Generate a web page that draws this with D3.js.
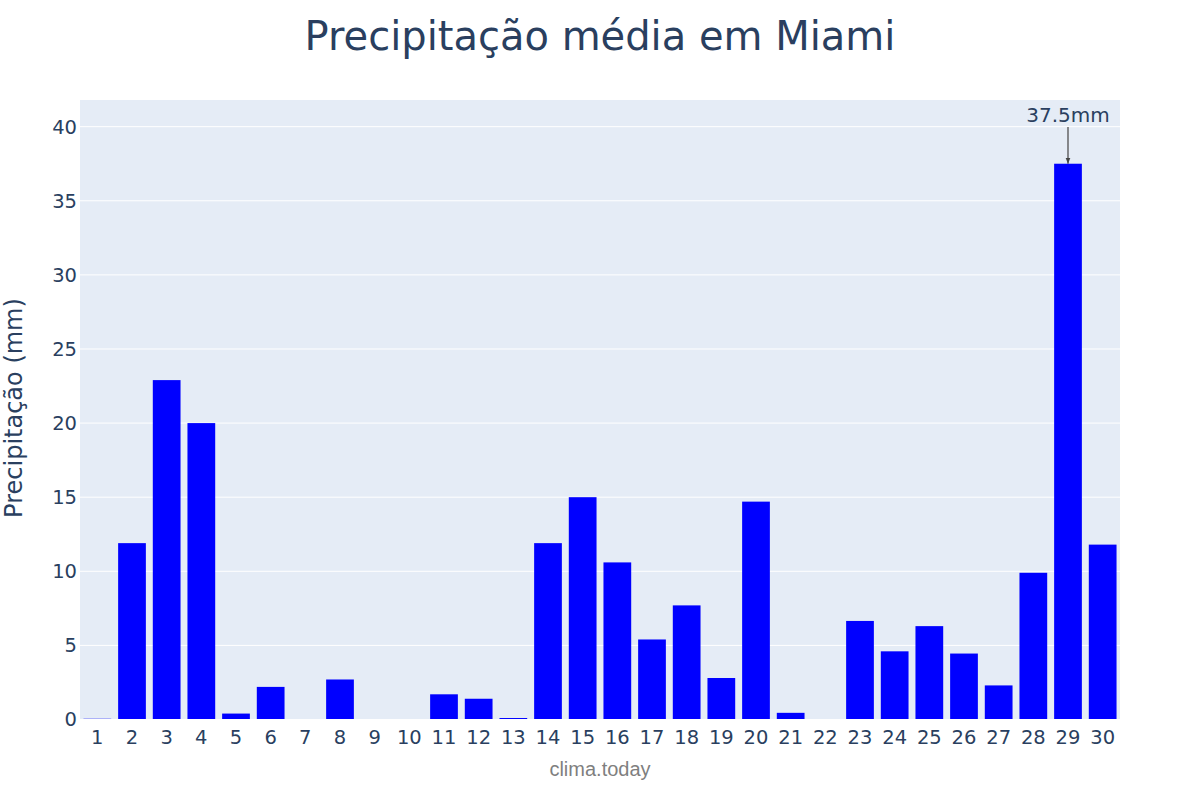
<!DOCTYPE html>
<html><head><meta charset="utf-8">
<script src="https://cdn.jsdelivr.net/npm/d3@7"></script>
<style>body{margin:0;background:#fff;} text{font-family:"DejaVu Sans",sans-serif;}</style>
</head><body>
<svg id="c" width="1200" height="800"></svg>
<script>
const days = d3.range(1,31).map(String);
const precip = [0.05,11.9,22.9,20.0,0.4,2.2,0.03,2.7,0,0,1.7,1.4,0.1,11.9,15.0,10.6,5.4,7.7,2.8,14.7,0.45,0.02,6.65,4.6,6.3,4.45,2.3,9.9,37.5,11.8];
const yTicks = [0,5,10,15,20,25,30,35,40];
const titleText = "Precipitação média em Miami";
const yTitle = "Precipitação (mm)";
const xTitle = "clima.today";

const svg = d3.select("#c");
const m = {l:80, r:1120, t:100, b:719.5};
const x = d3.scaleBand().domain(days).range([m.l,m.r]).paddingInner(0.2).paddingOuter(0.1);
const y = d3.scaleLinear().domain([0,41.8]).range([m.b,m.t]);

svg.append("rect").attr("x",m.l).attr("y",m.t).attr("width",m.r-m.l).attr("height",m.b-m.t).attr("fill","#e5ecf6");
svg.append("g").selectAll("line").data(yTicks.filter(d=>d>0)).join("line")
  .attr("x1",m.l).attr("x2",m.r).attr("y1",d=>y(d)).attr("y2",d=>y(d)).attr("stroke","#fff").attr("stroke-width",1);

svg.append("g").selectAll("rect").data(precip).join("rect")
  .attr("x",(d,i)=>x(days[i])).attr("width",x.bandwidth())
  .attr("y",d=>y(d)).attr("height",d=>y(0)-y(d)).attr("fill","#0000ff");

svg.append("line").attr("x1",m.l).attr("x2",m.r).attr("y1",y(0)).attr("y2",y(0)).attr("stroke","#fff").attr("stroke-width",1);

svg.append("g").selectAll("text").data(yTicks).join("text")
  .attr("x",m.l-3).attr("y",d=>y(d)).attr("dy","0.35em").attr("text-anchor","end")
  .attr("font-size",19.5).attr("fill","#2a3f5f").text(d=>d);
svg.append("g").selectAll("text").data(days).join("text")
  .attr("x",d=>x(d)+x.bandwidth()/2).attr("y",744).attr("text-anchor","middle")
  .attr("font-size",19.5).attr("fill","#2a3f5f").text(d=>d);

svg.append("text").attr("x",600).attr("y",50).attr("text-anchor","middle").attr("font-size",40).attr("fill","#2a3f5f").text(titleText);
svg.append("text").attr("transform","translate(22,408) rotate(-90)").attr("text-anchor","middle").attr("font-size",24).attr("fill","#2a3f5f").text(yTitle);
svg.append("text").attr("x",600).attr("y",776).attr("text-anchor","middle").attr("font-size",20).attr("fill","#7f7f7f").style("font-family","'Liberation Sans',Arial,sans-serif").text(xTitle);

// annotation
const maxI = precip.indexOf(d3.max(precip));
const ax = x(days[maxI])+x.bandwidth()/2;
svg.append("defs").append("marker").attr("id","ah").attr("viewBox","0 0 10 10").attr("refX",10).attr("refY",5)
  .attr("markerWidth",5).attr("markerHeight",5).attr("orient","auto")
  .append("path").attr("d","M0,1L10,5L0,9Z").attr("fill","#444");
svg.append("line").attr("x1",ax).attr("x2",ax).attr("y1",127).attr("y2",y(precip[maxI])).attr("stroke","#444").attr("stroke-width",1.2).attr("marker-end","url(#ah)");
svg.append("text").attr("x",ax).attr("y",122).attr("text-anchor","middle").attr("font-size",20).attr("fill","#2a3f5f").text(precip[maxI]+"mm");
</script>
</body></html>
